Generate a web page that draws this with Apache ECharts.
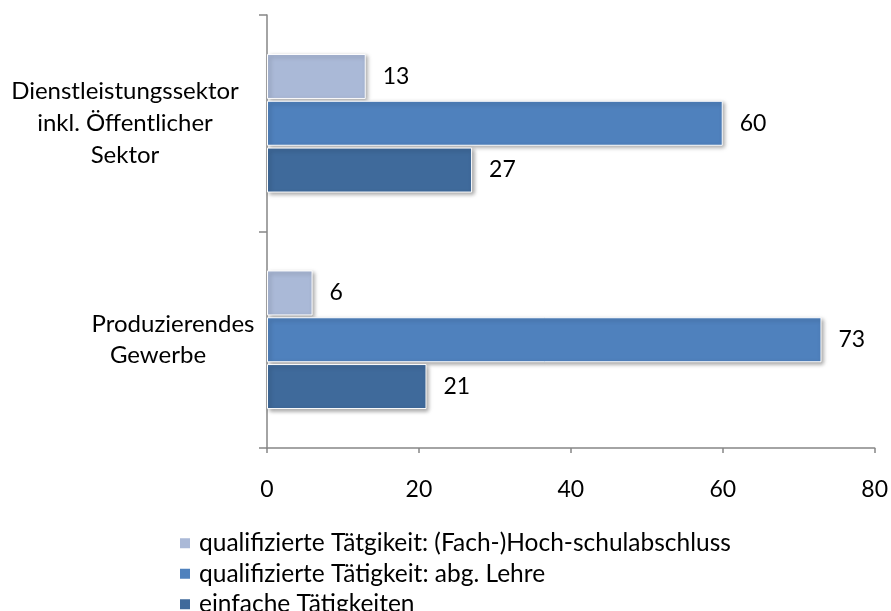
<!DOCTYPE html>
<html>
<head>
<meta charset="utf-8">
<script src="https://cdn.jsdelivr.net/npm/echarts@6/dist/echarts.min.js"></script>
<style>html,body{margin:0;padding:0;background:#fff;}#c{width:891px;height:611px;}</style>
</head>
<body>
<div id="c"></div>
<script>
const categories = ['Produzierendes\nGewerbe', 'Dienstleistungssektor\ninkl. Öffentlicher\nSektor'];
const seriesNames = ['qualifizierte Tätgikeit: (Fach-)Hoch-schulabschluss', 'qualifizierte Tätigkeit: abg. Lehre', 'einfache Tätigkeiten'];
const hochschule = [6, 13];
const lehre = [73, 60];
const einfach = [21, 27];
const xTicks = [0, 20, 40, 60, 80];

const colors = ['#AAB9D7', '#4F81BD', '#3F6A9B'];
const FONT = 'Lato';

function barSeries(name, data, color) {
  return {
    name: name, type: 'bar', data: data,
    barWidth: 45, barGap: '4%',
    itemStyle: {
      color: color, borderColor: '#fff', borderWidth: 1,
      shadowColor: 'rgba(0,0,0,0.35)', shadowBlur: 4, shadowOffsetX: 2, shadowOffsetY: 2
    },
    label: { show: true, position: 'right', distance: 17, color: '#000', fontSize: 23, fontFamily: FONT }
  };
}

const chart = echarts.init(document.getElementById('c'));
chart.setOption({
  animation: false,
  textStyle: { fontFamily: FONT },
  grid: { left: 267, right: 16, top: 15, bottom: 163, containLabel: false },
  legend: {
    orient: 'vertical', left: 173, top: 523, height: 150,
    itemWidth: 12, itemHeight: 12, itemGap: 0,
    icon: 'rect',
    data: seriesNames,
    textStyle: { fontSize: 24.5, lineHeight: 30.5, color: '#000', fontFamily: FONT, padding: [0, 0, 0, 3] }
  },
  xAxis: {
    type: 'value', min: xTicks[0], max: xTicks[xTicks.length - 1], interval: 20,
    splitLine: { show: false },
    axisLine: { show: true, lineStyle: { color: '#868686', width: 1.5 } },
    axisTick: { show: true, length: 5, lineStyle: { color: '#868686', width: 1.5 } },
    axisLabel: { fontSize: 23, color: '#000', margin: 30, fontFamily: FONT }
  },
  yAxis: {
    type: 'category', data: categories,
    axisLine: { show: true, lineStyle: { color: '#868686', width: 1.5 } },
    axisTick: { show: true, length: 8, lineStyle: { color: '#868686', width: 1.5 } },
    axisLabel: {
      fontSize: 24, color: '#000', fontFamily: FONT, align: 'center', margin: 94,
      formatter: function (v) {
        if (v.indexOf('Dienst') === 0) {
          return v.split('\n').map(l => '{a|' + l + '}').join('\n');
        }
        const p = v.split('\n');
        return '{b|' + p[0] + '}\n{c|' + p[1] + '}';
      },
      rich: {
        a: { fontSize: 24, lineHeight: 32, color: '#000', fontFamily: FONT, padding: [0, 96, 0, 0] },
        b: { fontSize: 24, lineHeight: 31, color: '#000', fontFamily: FONT },
        c: { fontSize: 24, lineHeight: 31, color: '#000', fontFamily: FONT, padding: [0, 30, 0, 0] }
      }
    }
  },
  series: [
    barSeries(seriesNames[0], hochschule, colors[0]),
    barSeries(seriesNames[1], lehre, colors[1]),
    barSeries(seriesNames[2], einfach, colors[2])
  ]
});
</script>
</body>
</html>
